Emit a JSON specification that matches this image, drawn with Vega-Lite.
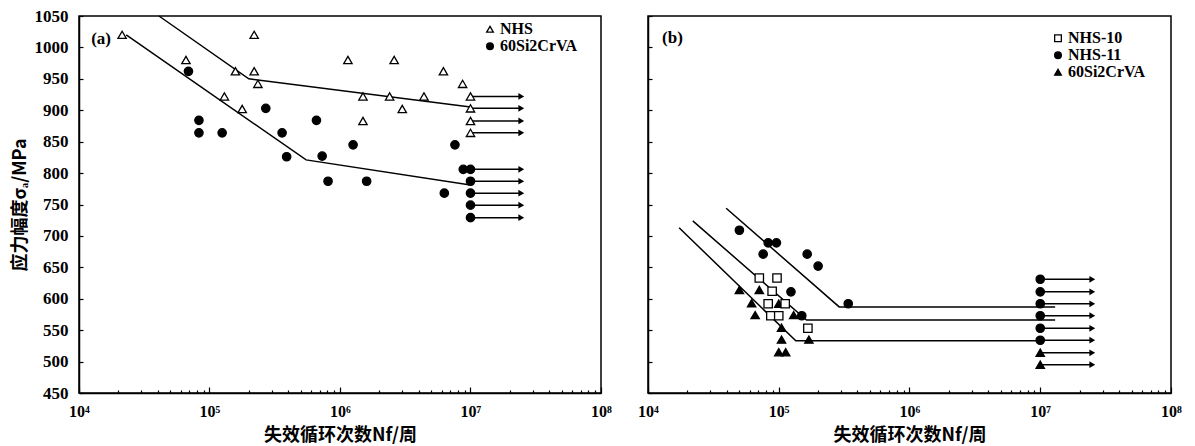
{
  "$schema": "https://vega.github.io/schema/vega-lite/v6.json",
  "background": "white",
  "padding": {"left": 10, "top": 6, "right": 5, "bottom": 5},
  "spacing": 47,
  "bounds": "flush",
  "config": {
    "view": {"stroke": "black", "strokeWidth": 1.5},
    "axis": {
      "domainColor": "black", "domainWidth": 1.5, "tickColor": "black", "tickWidth": 1.2,
      "grid": false, "labelColor": "black", "titleColor": "black",
      "labelFont": "Liberation Serif", "labelFontWeight": "bold", "labelFontSize": 17,
      "titleFont": "Noto Sans CJK SC", "titleFontWeight": "bold", "titleFontSize": 18
    },
    "legend": {
      "labelFont": "Liberation Serif", "labelFontWeight": "bold", "labelFontSize": 16,
      "labelColor": "black", "symbolStrokeWidth": 1.3,
      "symbolSize": 45, "rowPadding": 0, "labelOffset": 2, "padding": 0, "clipHeight": 14.5
    }
  },
  "datasets": {
    "linesA": [
      {"line": "NHS", "k": 1, "n": 41000, "s": 1050},
      {"line": "NHS", "k": 2, "n": 200000, "s": 950},
      {"line": "NHS", "k": 3, "n": 10000000, "s": 905},
      {"line": "60Si2CrVA", "k": 1, "n": 23000, "s": 1020},
      {"line": "60Si2CrVA", "k": 2, "n": 550000, "s": 821},
      {"line": "60Si2CrVA", "k": 3, "n": 10000000, "s": 781}
    ],
    "arrowsA": [
      {"n": 10000000, "n2": 24500000, "s": 922},
      {"n": 10000000, "n2": 24500000, "s": 903},
      {"n": 10000000, "n2": 24500000, "s": 883},
      {"n": 10000000, "n2": 24500000, "s": 864},
      {"n": 10000000, "n2": 24500000, "s": 806},
      {"n": 10000000, "n2": 24500000, "s": 787},
      {"n": 10000000, "n2": 24500000, "s": 768},
      {"n": 10000000, "n2": 24500000, "s": 749},
      {"n": 10000000, "n2": 24500000, "s": 729}
    ],
    "pointsA": [
      {"series": "NHS", "n": 21400, "s": 1020},
      {"series": "NHS", "n": 66000, "s": 980},
      {"series": "NHS", "n": 130000, "s": 922},
      {"series": "NHS", "n": 158000, "s": 962},
      {"series": "NHS", "n": 178000, "s": 902},
      {"series": "NHS", "n": 220000, "s": 1020},
      {"series": "NHS", "n": 220000, "s": 962},
      {"series": "NHS", "n": 235000, "s": 942},
      {"series": "NHS", "n": 1150000, "s": 980},
      {"series": "NHS", "n": 2600000, "s": 980},
      {"series": "NHS", "n": 6200000, "s": 962},
      {"series": "NHS", "n": 8700000, "s": 942},
      {"series": "NHS", "n": 1500000, "s": 922},
      {"series": "NHS", "n": 2400000, "s": 922},
      {"series": "NHS", "n": 4400000, "s": 922},
      {"series": "NHS", "n": 3000000, "s": 902},
      {"series": "NHS", "n": 1500000, "s": 883},
      {"series": "NHS", "n": 10000000, "s": 922},
      {"series": "NHS", "n": 10000000, "s": 903},
      {"series": "NHS", "n": 10000000, "s": 883},
      {"series": "NHS", "n": 10000000, "s": 864},
      {"series": "60Si2CrVA", "n": 69000, "s": 962},
      {"series": "60Si2CrVA", "n": 83000, "s": 884},
      {"series": "60Si2CrVA", "n": 83000, "s": 864},
      {"series": "60Si2CrVA", "n": 125000, "s": 864},
      {"series": "60Si2CrVA", "n": 270000, "s": 903},
      {"series": "60Si2CrVA", "n": 360000, "s": 864},
      {"series": "60Si2CrVA", "n": 390000, "s": 826},
      {"series": "60Si2CrVA", "n": 660000, "s": 884},
      {"series": "60Si2CrVA", "n": 730000, "s": 827},
      {"series": "60Si2CrVA", "n": 1260000, "s": 845},
      {"series": "60Si2CrVA", "n": 810000, "s": 787},
      {"series": "60Si2CrVA", "n": 1600000, "s": 787},
      {"series": "60Si2CrVA", "n": 6300000, "s": 768},
      {"series": "60Si2CrVA", "n": 7600000, "s": 845},
      {"series": "60Si2CrVA", "n": 8800000, "s": 806},
      {"series": "60Si2CrVA", "n": 10000000, "s": 806},
      {"series": "60Si2CrVA", "n": 10000000, "s": 787},
      {"series": "60Si2CrVA", "n": 10000000, "s": 768},
      {"series": "60Si2CrVA", "n": 10000000, "s": 749},
      {"series": "60Si2CrVA", "n": 10000000, "s": 729}
    ],
    "linesB": [
      {"line": "NHS-11", "k": 1, "n": 39600, "s": 744},
      {"line": "NHS-11", "k": 2, "n": 290000, "s": 587},
      {"line": "NHS-11", "k": 3, "n": 13000000, "s": 587},
      {"line": "NHS-10", "k": 1, "n": 22000, "s": 724},
      {"line": "NHS-10", "k": 2, "n": 163000, "s": 566},
      {"line": "NHS-10", "k": 3, "n": 13000000, "s": 566},
      {"line": "60Si2CrVA", "k": 1, "n": 17300, "s": 713},
      {"line": "60Si2CrVA", "k": 2, "n": 135000, "s": 533},
      {"line": "60Si2CrVA", "k": 3, "n": 10000000, "s": 533}
    ],
    "arrowsB": [
      {"n": 10000000, "n2": 25000000, "s": 631},
      {"n": 10000000, "n2": 25000000, "s": 611},
      {"n": 10000000, "n2": 25000000, "s": 592},
      {"n": 10000000, "n2": 25000000, "s": 573},
      {"n": 10000000, "n2": 25000000, "s": 553},
      {"n": 10000000, "n2": 25000000, "s": 534},
      {"n": 10000000, "n2": 25000000, "s": 514},
      {"n": 10000000, "n2": 25000000, "s": 495}
    ],
    "pointsB": [
      {"series": "NHS-11", "n": 50000, "s": 709},
      {"series": "NHS-11", "n": 83000, "s": 689},
      {"series": "NHS-11", "n": 96000, "s": 689},
      {"series": "NHS-11", "n": 76000, "s": 671},
      {"series": "NHS-11", "n": 165000, "s": 671},
      {"series": "NHS-11", "n": 200000, "s": 652},
      {"series": "NHS-11", "n": 124000, "s": 611},
      {"series": "NHS-11", "n": 340000, "s": 592},
      {"series": "NHS-11", "n": 150000, "s": 573},
      {"series": "NHS-11", "n": 10000000, "s": 631},
      {"series": "NHS-11", "n": 10000000, "s": 611},
      {"series": "NHS-11", "n": 10000000, "s": 592},
      {"series": "NHS-11", "n": 10000000, "s": 573},
      {"series": "NHS-11", "n": 10000000, "s": 553},
      {"series": "NHS-11", "n": 10000000, "s": 534},
      {"series": "60Si2CrVA", "n": 50000, "s": 614},
      {"series": "60Si2CrVA", "n": 71000, "s": 614},
      {"series": "60Si2CrVA", "n": 62000, "s": 593},
      {"series": "60Si2CrVA", "n": 66000, "s": 574},
      {"series": "60Si2CrVA", "n": 130000, "s": 574},
      {"series": "60Si2CrVA", "n": 100000, "s": 592},
      {"series": "60Si2CrVA", "n": 105000, "s": 554},
      {"series": "60Si2CrVA", "n": 105000, "s": 535},
      {"series": "60Si2CrVA", "n": 100000, "s": 515},
      {"series": "60Si2CrVA", "n": 113000, "s": 515},
      {"series": "60Si2CrVA", "n": 170000, "s": 535},
      {"series": "60Si2CrVA", "n": 10000000, "s": 514},
      {"series": "60Si2CrVA", "n": 10000000, "s": 495},
      {"series": "NHS-10", "n": 71000, "s": 633},
      {"series": "NHS-10", "n": 97000, "s": 633},
      {"series": "NHS-10", "n": 89000, "s": 612},
      {"series": "NHS-10", "n": 83000, "s": 592},
      {"series": "NHS-10", "n": 112000, "s": 592},
      {"series": "NHS-10", "n": 87000, "s": 573},
      {"series": "NHS-10", "n": 100000, "s": 573},
      {"series": "NHS-10", "n": 167000, "s": 553}
    ]
  },
  "resolve": {"scale": {"shape": "independent", "fill": "independent", "stroke": "independent"}},
  "hconcat": [
    {
      "width": 522,
      "height": 377,
      "encoding": {
        "x": {
          "field": "n", "type": "quantitative",
          "scale": {"type": "log", "domain": [10000, 100000000]},
          "axis": {
            "title": "失效循环次数Nf/周",
            "values": [10000, 20000, 30000, 40000, 50000, 60000, 70000, 80000, 90000, 100000, 200000, 300000, 400000, 500000, 600000, 700000, 800000, 900000, 1000000, 2000000, 3000000, 4000000, 5000000, 6000000, 7000000, 8000000, 9000000, 10000000, 20000000, 30000000, 40000000, 50000000, 60000000, 70000000, 80000000, 90000000, 100000000],
            "labelExpr": "indexof([10000,100000,1000000,10000000,100000000], datum.value) >= 0 ? '10' + ['⁴','⁵','⁶','⁷','⁸'][round(log(datum.value)/LN10)-4] : ''",
            "tickSize": {"condition": {"test": "indexof([10000,100000,1000000,10000000,100000000], datum.value) >= 0", "value": -6}, "value": -3},
            "labelPadding": 16, "labelOverlap": false, "labelFlush": false, "labelFontSize": 16, "titlePadding": 4
          }
        },
        "y": {
          "field": "s", "type": "quantitative",
          "scale": {"domain": [450, 1050], "nice": false, "zero": false},
          "axis": {
            "title": "应力幅度σₐ/MPa", "format": "d",
            "values": [450, 500, 550, 600, 650, 700, 750, 800, 850, 900, 950, 1000, 1050],
            "tickSize": -4, "labelPadding": 15, "titlePadding": 5
          }
        }
      },
      "layer": [
        {
          "data": {"name": "linesA"},
          "mark": {"type": "line", "color": "black", "strokeWidth": 1.5},
          "encoding": {"detail": {"field": "line"}, "order": {"field": "k"}}
        },
        {
          "data": {"name": "arrowsA"},
          "mark": {"type": "rule", "color": "black", "strokeWidth": 1.5},
          "encoding": {"x2": {"field": "n2"}}
        },
        {
          "data": {"name": "arrowsA"},
          "mark": {"type": "point", "shape": "triangle-right", "filled": true, "color": "black", "size": 45, "opacity": 1},
          "encoding": {"x": {"field": "n2", "type": "quantitative"}}
        },
        {
          "data": {"name": "pointsA"},
          "mark": {"type": "point", "filled": true, "strokeWidth": 1.3, "size": 70, "opacity": 1},
          "encoding": {
            "shape": {"field": "series", "type": "nominal", "scale": {"domain": ["NHS", "60Si2CrVA"], "range": ["triangle-up", "circle"]}, "legend": {"title": null, "orient": "none", "legendX": 403, "legendY": 6}},
            "fill": {"field": "series", "type": "nominal", "scale": {"domain": ["NHS", "60Si2CrVA"], "range": ["white", "black"]}, "legend": {"title": null, "orient": "none", "legendX": 403, "legendY": 6}},
            "stroke": {"field": "series", "type": "nominal", "scale": {"domain": ["NHS", "60Si2CrVA"], "range": ["black", "black"]}, "legend": {"title": null, "orient": "none", "legendX": 403, "legendY": 6}}
          }
        },
        {
          "data": {"values": [{"n": 12400, "s": 1013, "t": "(a)"}]},
          "mark": {"type": "text", "align": "left", "baseline": "middle", "font": "Liberation Serif", "fontWeight": "bold", "fontSize": 17, "color": "black"},
          "encoding": {"text": {"field": "t"}}
        }
      ]
    },
    {
      "width": 523,
      "height": 377,
      "encoding": {
        "x": {
          "field": "n", "type": "quantitative",
          "scale": {"type": "log", "domain": [10000, 100000000]},
          "axis": {
            "title": "失效循环次数Nf/周",
            "values": [10000, 20000, 30000, 40000, 50000, 60000, 70000, 80000, 90000, 100000, 200000, 300000, 400000, 500000, 600000, 700000, 800000, 900000, 1000000, 2000000, 3000000, 4000000, 5000000, 6000000, 7000000, 8000000, 9000000, 10000000, 20000000, 30000000, 40000000, 50000000, 60000000, 70000000, 80000000, 90000000, 100000000],
            "labelExpr": "indexof([10000,100000,1000000,10000000,100000000], datum.value) >= 0 ? '10' + ['⁴','⁵','⁶','⁷','⁸'][round(log(datum.value)/LN10)-4] : ''",
            "tickSize": {"condition": {"test": "indexof([10000,100000,1000000,10000000,100000000], datum.value) >= 0", "value": -6}, "value": -3},
            "labelPadding": 16, "labelOverlap": false, "labelFlush": false, "labelFontSize": 16, "titlePadding": 4
          }
        },
        "y": {
          "field": "s", "type": "quantitative",
          "scale": {"domain": [450, 1050], "nice": false, "zero": false},
          "axis": {
            "title": null, "labels": false,
            "values": [450, 500, 550, 600, 650, 700, 750, 800, 850, 900, 950, 1000, 1050],
            "tickSize": -4
          }
        }
      },
      "layer": [
        {
          "data": {"name": "linesB"},
          "mark": {"type": "line", "color": "black", "strokeWidth": 1.5},
          "encoding": {"detail": {"field": "line"}, "order": {"field": "k"}}
        },
        {
          "data": {"name": "arrowsB"},
          "mark": {"type": "rule", "color": "black", "strokeWidth": 1.5},
          "encoding": {"x2": {"field": "n2"}}
        },
        {
          "data": {"name": "arrowsB"},
          "mark": {"type": "point", "shape": "triangle-right", "filled": true, "color": "black", "size": 45, "opacity": 1},
          "encoding": {"x": {"field": "n2", "type": "quantitative"}}
        },
        {
          "data": {"name": "pointsB"},
          "mark": {"type": "point", "filled": true, "strokeWidth": 1.3, "size": 70, "opacity": 1},
          "encoding": {
            "shape": {"field": "series", "type": "nominal", "scale": {"domain": ["NHS-10", "NHS-11", "60Si2CrVA"], "range": ["square", "circle", "triangle-up"]}, "legend": {"title": null, "orient": "none", "legendX": 402, "legendY": 15}},
            "fill": {"field": "series", "type": "nominal", "scale": {"domain": ["NHS-10", "NHS-11", "60Si2CrVA"], "range": ["white", "black", "black"]}, "legend": {"title": null, "orient": "none", "legendX": 402, "legendY": 15}},
            "stroke": {"field": "series", "type": "nominal", "scale": {"domain": ["NHS-10", "NHS-11", "60Si2CrVA"], "range": ["black", "black", "black"]}, "legend": {"title": null, "orient": "none", "legendX": 402, "legendY": 15}}
          }
        },
        {
          "data": {"values": [{"n": 12800, "s": 1015, "t": "(b)"}]},
          "mark": {"type": "text", "align": "left", "baseline": "middle", "font": "Liberation Serif", "fontWeight": "bold", "fontSize": 17, "color": "black"},
          "encoding": {"text": {"field": "t"}}
        }
      ]
    }
  ]
}
